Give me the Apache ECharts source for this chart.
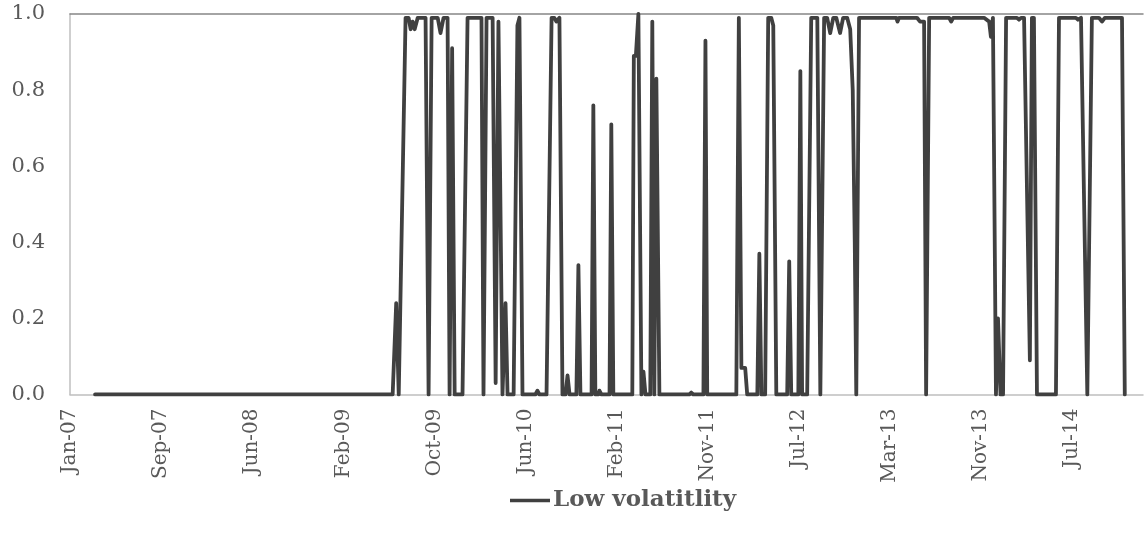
<!DOCTYPE html>
<html>
<head>
<meta charset="utf-8">
<script src="https://cdn.jsdelivr.net/npm/echarts@6/dist/echarts.min.js"></script>
<style>
html,body{margin:0;padding:0;background:#fff;}
#chart{width:1145px;height:545px;}
</style>
</head>
<body>
<div id="chart"></div>
<script>
// x positions: weeks since start of Jan-07
var weeks = [9.9,127.5,128.9,129.9,132.6,133.8,134.6,135.4,136.2,137.4,140.5,141.7,142.9,145.3,146.4,147.6,149.2,150.0,151.0,152.0,155.1,157.1,162.6,163.4,164.6,167.0,168.2,169.3,170.9,172.1,172.9,175.3,176.8,177.6,178.8,183.9,184.7,185.5,188.3,190.3,191.4,192.2,193.4,194.6,195.8,196.6,197.4,200.1,200.9,201.7,206.1,206.8,207.6,208.8,209.2,210.0,213.2,213.9,214.7,222.2,222.8,223.6,224.6,225.8,226.6,227.4,229.3,230.1,230.9,231.7,232.9,244.7,245.5,246.3,250.3,251.1,251.8,263.3,264.3,265.3,266.8,267.6,271.6,272.4,273.2,274.7,275.9,277.1,277.9,279.1,283.4,284.2,285.0,287.8,288.6,289.3,291.3,292.9,295.3,296.5,298.0,299.2,300.4,301.6,302.8,304.3,305.5,307.1,308.3,309.3,310.1,310.7,311.8,326.5,327.0,327.6,334.7,335.9,337.5,338.3,339.5,347.4,348.2,349.0,361.2,363.2,363.9,364.7,365.9,366.7,367.7,368.7,369.9,374.2,375.0,375.8,377.0,379.3,380.1,380.9,382.1,389.6,390.8,397.5,398.3,399.5,402.0,403.8,406.6,407.8,408.9,415.7,416.8];
var lowVol = [0,0,0.24,0,0.99,0.99,0.96,0.98,0.96,0.99,0.99,0,0.99,0.99,0.95,0.99,0.99,0,0.91,0,0,0.99,0.99,0,0.99,0.99,0.03,0.98,0,0.24,0,0,0.97,0.99,0,0,0.01,0,0,0.99,0.99,0.98,0.99,0,0,0.05,0,0,0.34,0,0,0.76,0,0,0.01,0,0,0.71,0,0,0.89,0.89,1.0,0,0.06,0,0,0.98,0,0.83,0,0,0.005,0,0,0.93,0,0,0.99,0.07,0.07,0,0,0.37,0,0,0.99,0.99,0.97,0,0,0.35,0,0,0.85,0,0,0.99,0.99,0,0.99,0.99,0.95,0.99,0.99,0.95,0.99,0.99,0.96,0.8,0.4,0,0.99,0.99,0.98,0.99,0.99,0.98,0.98,0,0.99,0.99,0.98,0.99,0.99,0.98,0.94,0.99,0,0.2,0,0,0.99,0.99,0.985,0.99,0.99,0.09,0.99,0.99,0,0,0.99,0.99,0.985,0.99,0,0.99,0.99,0.98,0.99,0.99,0];
var tickLabels = ['Jan-07','Sep-07','Jun-08','Feb-09','Oct-09','Jun-10','Feb-11','Nov-11','Jul-12','Mar-13','Nov-13','Jul-14'];
var seriesName = 'Low volatitlity';
var weeksPerLabel = 36;
var axisMax = 424;

var points = weeks.map(function(w, i){ return [w, lowVol[i]]; });
var font = 'DejaVu Serif';
var chart = echarts.init(document.getElementById('chart'), null, {renderer:'canvas'});
chart.setOption({
  animation: false,
  backgroundColor: '#ffffff',
  grid: {left: 70, right: 2, top: 14, bottom: 150.5, containLabel: false},
  legend: {
    data: [{name: seriesName, icon: 'rect'}],
    left: 505, top: 484,
    itemWidth: 40, itemHeight: 3.6, itemGap: 4,
    itemStyle: {color: '#404040', borderWidth: 0},
    textStyle: {fontFamily: font, fontWeight: 'bold', fontSize: 23, color: '#595959', padding: [0,0,0,-2]}
  },
  xAxis: [{
    type: 'value', min: 0, max: axisMax, interval: weeksPerLabel,
    axisLine: {show: true, lineStyle: {color: '#bfbfbf', width: 1.5}},
    axisTick: {show: false},
    splitLine: {show: false},
    axisLabel: {
      rotate: 90, margin: 14, color: '#595959', fontFamily: font, fontSize: 20,
      showMaxLabel: false,
      formatter: function(v){
        var k = Math.round(v / weeksPerLabel);
        return (Math.abs(v - k*weeksPerLabel) < 1e-6 && tickLabels[k]) ? tickLabels[k] : '';
      }
    }
  },{
    type: 'value', position: 'top', min: 0, max: axisMax,
    axisLine: {show: true, lineStyle: {color: '#868686', width: 1.5}},
    axisTick: {show: false}, axisLabel: {show: false}, splitLine: {show: false}
  }],
  yAxis: {
    type: 'value', min: 0, max: 1, interval: 0.2,
    axisLine: {show: true, lineStyle: {color: '#bfbfbf', width: 1.5}},
    axisTick: {show: false},
    splitLine: {show: false},
    axisLabel: {margin: 25, color: '#595959', fontFamily: font, fontSize: 21,
      formatter: function(v){ return v.toFixed(1); }}
  },
  series: [{
    name: seriesName, type: 'line', xAxisIndex: 0,
    data: points, symbol: 'none', showSymbol: false,
    lineStyle: {color: '#404040', width: 3.8, cap: 'round', join: 'round'},
    itemStyle: {color: '#404040'}
  }]
});
</script>
</body>
</html>
